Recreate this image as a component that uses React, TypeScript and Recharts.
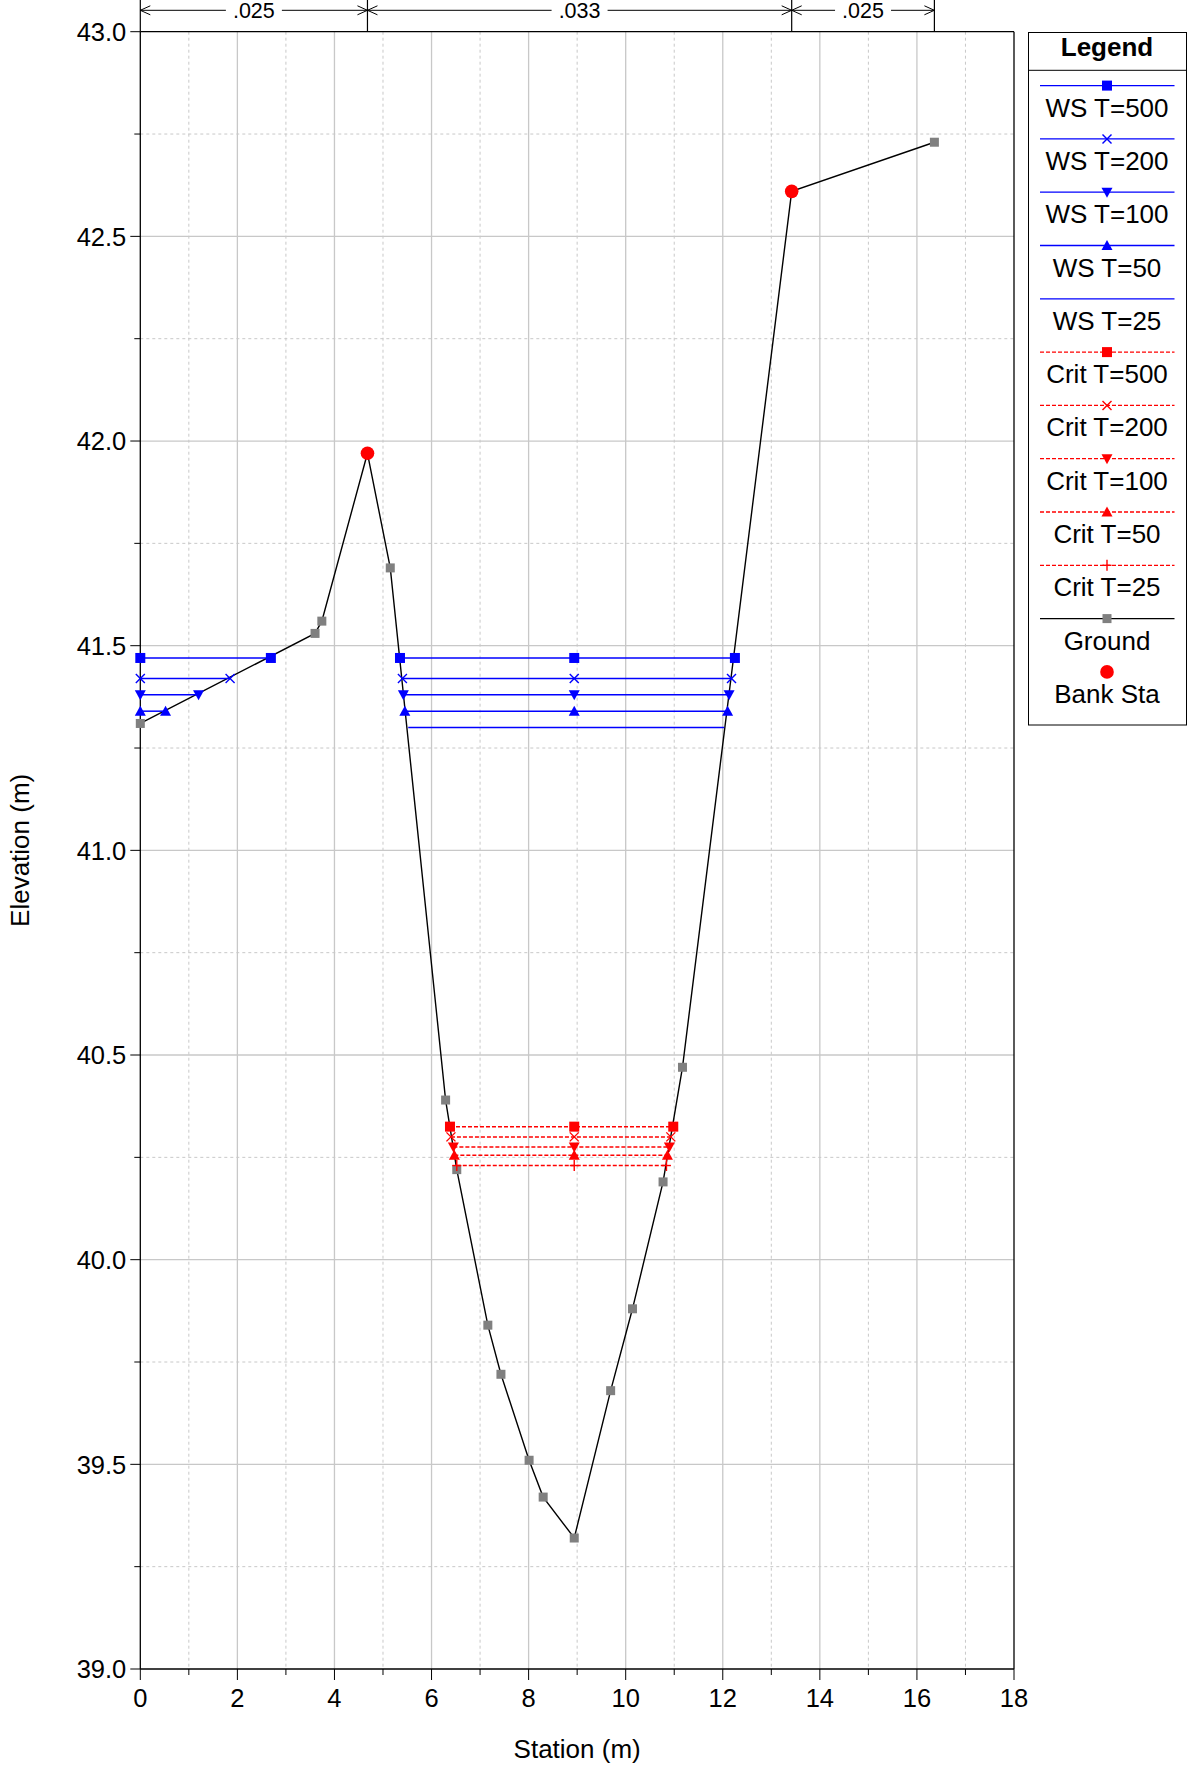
import { CartesianGrid, ComposedChart, Label, Legend, ReferenceLine, Scatter, XAxis, YAxis } from 'recharts'

// ground profile (station m, elevation m)
const groundStation = [0, 3.6, 3.74, 4.68, 5.15, 6.29, 6.52, 7.16, 7.43, 8.01, 8.3, 8.94, 9.69, 10.14, 10.77, 11.17, 13.42, 16.36]
const groundElev = [41.31, 41.53, 41.56, 41.97, 41.69, 40.39, 40.22, 39.84, 39.72, 39.51, 39.42, 39.32, 39.68, 39.88, 40.19, 40.47, 42.61, 42.73]
const bankStation = [4.68, 13.42]
const bankElev = [41.97, 42.61]

// profiles
const profileNames = ['T=500', 'T=200', 'T=100', 'T=50', 'T=25']
const wsElev = [41.47, 41.42, 41.38, 41.34, 41.3]
const wsLobEnd = [2.69, 1.85, 1.2, 0.52, null]
const wsChanLeft = [5.35, 5.4, 5.42, 5.45, 5.52]
const wsChanRight = [12.25, 12.18, 12.13, 12.1, 12.03]
const critElev = [40.325, 40.3, 40.275, 40.255, 40.23]
const critLeft = [6.38, 6.4, 6.45, 6.47, 6.52]
const critRight = [10.98, 10.93, 10.9, 10.86, 10.84]
const thalwegStation = 8.94

// manning's n regions
const nBreaks = [0, 4.68, 13.42, 16.36]
const nValues = ['.025', '.033', '.025']

const xTicks = [0, 1, 2, 3, 4, 5, 6, 7, 8, 9, 10, 11, 12, 13, 14, 15, 16, 17, 18]
const yTicks = [39, 39.25, 39.5, 39.75, 40, 40.25, 40.5, 40.75, 41, 41.25, 41.5, 41.75, 42, 42.25, 42.5, 42.75, 43]

const W = 1192
const H = 1775
const TOP = 31.7
const Y_AXIS_W = 140.3
const X_AXIS_H = 106
const FONT = '"Liberation Sans", Arial, sans-serif'
const BLUE = '#0000ff'
const RED = '#ff0000'
const GRID = '#c8c8c8'

const wsMarkers = ['square', 'x', 'triDown', 'triUp', 'none']
const critMarkers = ['square', 'x', 'triDown', 'triUp', 'plus']

const pts = (xs: number[], ys: number[]) => xs.map((x, i) => ({ x, y: ys[i] }))
const level = (xs: number[], y: number) => xs.map(x => ({ x, y }))

function drawMarker(kind: string, cx: number, cy: number, color: string) {
  switch (kind) {
    case 'square': return <rect x={cx - 5} y={cy - 5} width={10} height={10} fill={color} />
    case 'x': return <g stroke={color} strokeWidth={1.4}><line x1={cx - 4.5} y1={cy - 4.5} x2={cx + 4.5} y2={cy + 4.5} /><line x1={cx - 4.5} y1={cy + 4.5} x2={cx + 4.5} y2={cy - 4.5} /></g>
    case 'triDown': return <polygon points={`${cx - 5.5},${cy - 4.5} ${cx + 5.5},${cy - 4.5} ${cx},${cy + 5.5}`} fill={color} />
    case 'triUp': return <polygon points={`${cx - 5.5},${cy + 4.5} ${cx + 5.5},${cy + 4.5} ${cx},${cy - 5.5}`} fill={color} />
    case 'plus': return <g stroke={color} strokeWidth={1.4}><line x1={cx} y1={cy - 5.5} x2={cx} y2={cy + 5.5} /><line x1={cx - 4.5} y1={cy} x2={cx + 4.5} y2={cy} /></g>
    case 'ground': return <rect x={cx - 4.5} y={cy - 4.5} width={9} height={9} fill="#808080" />
    case 'bank': return <circle cx={cx} cy={cy} r={6.8} fill={RED} />
    default: return <g />
  }
}

const shapeOf = (kind: string, color: string) => (p: any) => drawMarker(kind, p.cx, p.cy, color)

const XTick = (p: any) => {
  const { x, y, payload } = p
  const v = payload.value
  const major = v % 2 === 0
  return <g>
    <line x1={x} x2={x} y1={y} y2={y + (major ? 11 : 6)} stroke="#000" />
    {major && <text x={x} y={y + 37.7} textAnchor="middle" fontSize={25.5} fontFamily={FONT} fill="#000">{v}</text>}
  </g>
}

const YTick = (p: any) => {
  const { x, y, payload } = p
  const v = payload.value
  const major = Number.isInteger(v * 2)
  return <g>
    <line x1={x - (major ? 10 : 6)} x2={x} y1={y} y2={y} stroke="#000" />
    {major && <text x={x - 14} y={y + 9.3} textAnchor="end" fontSize={25.5} fontFamily={FONT} fill="#000">{v.toFixed(1)}</text>}
  </g>
}

const breakLine = (p: any) => {
  const top = Math.min(p.y1, p.y2)
  return <line x1={p.x1} x2={p.x1} y1={top} y2={top - TOP} stroke="#000" strokeWidth={1.2} />
}

const nArrow = (label: string) => (p: any) => {
  const xa = Math.min(p.x1, p.x2)
  const xb = Math.max(p.x1, p.x2)
  const y = Math.min(p.y1, p.y2) - 21.4
  const mid = (xa + xb) / 2
  return <g>
    <line x1={xa} x2={xb} y1={y} y2={y} stroke="#000" strokeWidth={1} />
    <polyline points={`${xa + 10},${y - 4.5} ${xa},${y} ${xa + 10},${y + 4.5}`} fill="none" stroke="#000" strokeWidth={1} />
    <polyline points={`${xb - 10},${y - 4.5} ${xb},${y} ${xb - 10},${y + 4.5}`} fill="none" stroke="#000" strokeWidth={1} />
    <rect x={mid - 28} y={y - 12} width={56} height={24} fill="#fff" />
    <text x={mid} y={y + 7.8} textAnchor="middle" fontSize={21.5} fontFamily={FONT} fill="#000">{label}</text>
  </g>
}

const legendItems = [
  ...profileNames.map((n, i) => ({ label: `WS ${n}`, color: BLUE, dash: undefined as string | undefined, marker: wsMarkers[i], markerColor: BLUE })),
  ...profileNames.map((n, i) => ({ label: `Crit ${n}`, color: RED, dash: '4 2', marker: critMarkers[i], markerColor: RED })),
  { label: 'Ground', color: '#000', dash: undefined, marker: 'ground', markerColor: '#808080' },
  { label: 'Bank Sta', color: '', dash: undefined, marker: 'bank', markerColor: RED },
]

function LegendBox() {
  return <svg width={159} height={694} style={{ display: 'block' }}>
    <rect x={0.5} y={0.5} width={158} height={692.5} fill="#fff" stroke="#000" strokeWidth={1} />
    <text x={79} y={24} textAnchor="middle" fontSize={26} fontWeight="bold" fontFamily={FONT} fill="#000">Legend</text>
    <line x1={0.5} x2={158.5} y1={38.3} y2={38.3} stroke="#000" strokeWidth={1} />
    {legendItems.map((it, i) => {
      const ly = 53.6 + 53.3 * i
      return <g key={it.label}>
        {it.color && <line x1={12} x2={146.5} y1={ly} y2={ly} stroke={it.color} strokeWidth={1.3} strokeDasharray={it.dash} />}
        {drawMarker(it.marker, 79, ly, it.markerColor)}
        <text x={79} y={ly + 31} textAnchor="middle" fontSize={26} fontFamily={FONT} fill="#000">{it.label}</text>
      </g>
    })}
  </svg>
}

const yTitle = (p: any) => {
  const vb = p.viewBox || {}
  const cx = 29
  const cy = (vb.y ?? TOP) + (vb.height ?? 1637.3) / 2
  return <text x={cx} y={cy} transform={`rotate(-90 ${cx} ${cy})`} textAnchor="middle" fontSize={26} fontFamily={FONT} fill="#000">Elevation (m)</text>
}

const xTitle = (p: any) => {
  const vb = p.viewBox || {}
  const cx = (vb.x ?? Y_AXIS_W) + (vb.width ?? 873.7) / 2
  const cy = (vb.y ?? 1669) + 89
  return <text x={cx} y={cy} textAnchor="middle" fontSize={26} fontFamily={FONT} fill="#000">Station (m)</text>
}

export default function App() {
  const majorX = xTicks.filter(v => v % 2 === 0 && v > 0 && v < 18)
  const minorX = xTicks.filter(v => v % 2 === 1)
  const majorY = yTicks.filter(v => Number.isInteger(v * 2) && v > 39 && v < 43)
  const minorY = yTicks.filter(v => !Number.isInteger(v * 2))
  return <div style={{ position: 'absolute', left: 0, top: 0, width: W, height: H, background: '#fff', fontFamily: FONT }}>
    <ComposedChart width={W} height={H} margin={{ top: TOP, right: 178, bottom: 0, left: 0 }}>
      <CartesianGrid horizontalValues={minorY} verticalValues={minorX} stroke={GRID} strokeDasharray="3 3" />
      <CartesianGrid horizontalValues={majorY} verticalValues={majorX} stroke={GRID} strokeWidth={1.3} />
      <XAxis type="number" dataKey="x" domain={[0, 18]} ticks={xTicks} interval={0} tick={XTick} tickLine={false} tickSize={0} tickMargin={0} height={X_AXIS_H} axisLine={{ stroke: '#000', strokeWidth: 1.3 }}>
        <Label content={xTitle} />
      </XAxis>
      <YAxis type="number" dataKey="y" domain={[39, 43]} ticks={yTicks} interval={0} tick={YTick} tickLine={false} tickSize={0} tickMargin={0} width={Y_AXIS_W} axisLine={{ stroke: '#000', strokeWidth: 1.3 }}>
        <Label content={yTitle} />
      </YAxis>
      <ReferenceLine y={43} stroke="#000" strokeWidth={1.3} />
      <ReferenceLine x={18} stroke="#000" strokeWidth={1.3} />
      {nBreaks.map(b => <ReferenceLine key={`b${b}`} x={b} shape={breakLine} />)}
      {nValues.map((n, i) => <ReferenceLine key={`n${i}`} segment={[{ x: nBreaks[i], y: 43 }, { x: nBreaks[i + 1], y: 43 }]} shape={nArrow(n)} />)}

      <Scatter name="Ground" data={pts(groundStation, groundElev)} fill="#808080" line={{ stroke: '#000', strokeWidth: 1.4 }} lineType="joint" shape={shapeOf('ground', '#808080')} isAnimationActive={false} legendType="none" />

      {profileNames.map((n, i) => wsLobEnd[i] != null &&
        <Scatter key={`wsl${i}`} name={`WS ${n} LOB`} data={level([0, wsLobEnd[i] as number], wsElev[i])} fill={BLUE} line={{ stroke: BLUE, strokeWidth: 1.5 }} lineType="joint" shape={shapeOf(wsMarkers[i], BLUE)} isAnimationActive={false} legendType="none" />)}
      {profileNames.map((n, i) =>
        <Scatter key={`wsc${i}`} name={`WS ${n}`} data={level([wsChanLeft[i], thalwegStation, wsChanRight[i]], wsElev[i])} fill={BLUE} line={{ stroke: BLUE, strokeWidth: 1.5 }} lineType="joint" shape={shapeOf(wsMarkers[i], BLUE)} isAnimationActive={false} legendType="none" />)}
      {profileNames.map((n, i) =>
        <Scatter key={`cr${i}`} name={`Crit ${n}`} data={level([critLeft[i], thalwegStation, critRight[i]], critElev[i])} fill={RED} line={{ stroke: RED, strokeWidth: 1.5, strokeDasharray: '4 2' }} lineType="joint" shape={shapeOf(critMarkers[i], RED)} isAnimationActive={false} legendType="none" />)}

      <Scatter name="Bank Sta" data={pts(bankStation, bankElev)} fill={RED} shape={shapeOf('bank', RED)} isAnimationActive={false} legendType="none" />

      <Legend layout="vertical" align="center" verticalAlign="middle" wrapperStyle={{ position: 'absolute', left: 1028, top: TOP, width: 159, height: 694 }} content={() => <LegendBox />} />
    </ComposedChart>
  </div>
}
